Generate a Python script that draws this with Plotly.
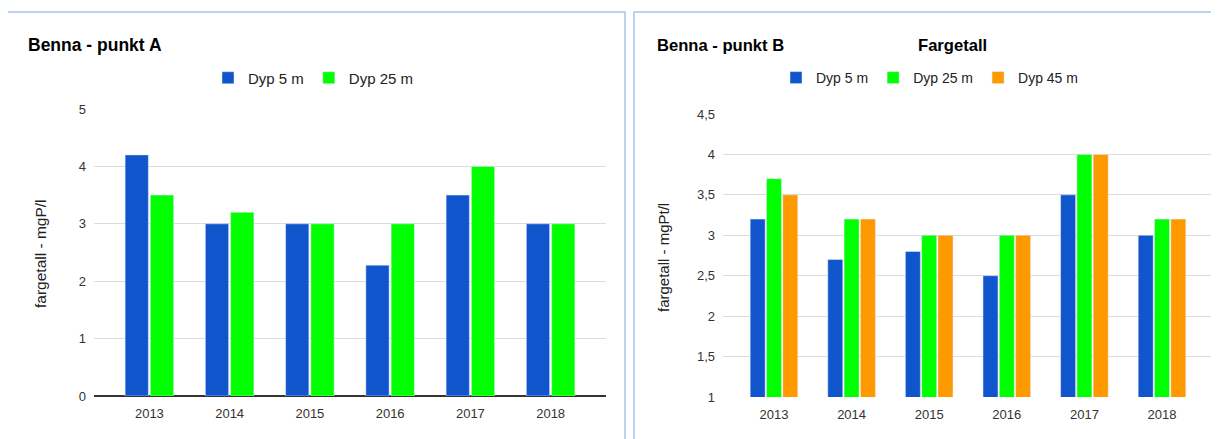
import plotly.graph_objects as go

W, H = 1219, 439
OFF = 8  # page body margin of the rendered html

years = ["2013", "2014", "2015", "2016", "2017", "2018"]

# Benna - punkt A
a_dyp5 = [4.2, 3.0, 3.0, 2.28, 3.5, 3.0]
a_dyp25 = [3.5, 3.2, 3.0, 3.0, 4.0, 3.0]

# Benna - punkt B
b_dyp5 = [3.2, 2.7, 2.8, 2.5, 3.5, 3.0]
b_dyp25 = [3.7, 3.2, 3.0, 3.0, 4.0, 3.2]
b_dyp45 = [3.5, 3.2, 3.0, 3.0, 4.0, 3.2]

a_yticks = [0, 1, 2, 3, 4, 5]
a_yticklabels = ["0", "1", "2", "3", "4", "5"]
b_yticks = [1, 1.5, 2, 2.5, 3, 3.5, 4, 4.5]
b_yticklabels = ["1", "1,5", "2", "2,5", "3", "3,5", "4", "4,5"]

BLUE = "#1155cc"
GREEN = "#00ff00"
ORANGE = "#ff9900"
FONT = "Arial, Liberation Sans, sans-serif"


def px(x):
    return (x - OFF) / W


def py(y):
    return 1 - (y - OFF) / H


fig = go.Figure()

fig.add_trace(go.Bar(x=years, y=a_dyp5, name="Dyp 5 m", marker_color=BLUE,
                     xaxis="x", yaxis="y", legend="legend"))
fig.add_trace(go.Bar(x=years, y=a_dyp25, name="Dyp 25 m", marker_color=GREEN,
                     xaxis="x", yaxis="y", legend="legend"))
fig.add_trace(go.Bar(x=years, y=b_dyp5, name="Dyp 5 m", marker_color=BLUE,
                     xaxis="x2", yaxis="y2", legend="legend2"))
fig.add_trace(go.Bar(x=years, y=b_dyp25, name="Dyp 25 m", marker_color=GREEN,
                     xaxis="x2", yaxis="y2", legend="legend2"))
fig.add_trace(go.Bar(x=years, y=b_dyp45, name="Dyp 45 m", marker_color=ORANGE,
                     xaxis="x2", yaxis="y2", legend="legend2"))

tickfont = dict(family=FONT, size=13, color="#333333")
grid = "#dcdcdc"
legfont_a = dict(family=FONT, size=15, color="#222222")
legfont_b = dict(family=FONT, size=14, color="#222222")
titlefont_a = dict(family=FONT, size=17.5, color="#000000")
titlefont_b = dict(family=FONT, size=16.6, color="#000000")
axtitlefont_a = dict(family=FONT, size=15.5, color="#222222")
axtitlefont_b = dict(family=FONT, size=15, color="#222222")
border = dict(color="#a8c4f0", width=1.5)

fig.update_layout(
    width=W, height=H,
    margin=dict(l=0, r=0, t=0, b=0, autoexpand=False),
    paper_bgcolor="white", plot_bgcolor="white",
    font=dict(family=FONT, color="#222222"),
    barmode="group", bargap=0.37, bargroupgap=0.08,
    xaxis=dict(domain=[px(94), px(606)], anchor="y", type="category",
               range=[-0.69, 5.69], tickfont=tickfont, showgrid=False,
               showline=False, ticks="", ticklabelstandoff=8, automargin=False),
    yaxis=dict(domain=[py(396), py(109)], anchor="x", range=[0, 5],
               tickvals=a_yticks, ticktext=a_yticklabels, tickfont=tickfont,
               showgrid=True, gridcolor=grid, gridwidth=1,
               zeroline=True, zerolinecolor="#333333", zerolinewidth=2,
               showline=False, ticks="", ticklabelstandoff=7, automargin=False),
    xaxis2=dict(domain=[px(723), px(1215)], anchor="y2", type="category",
                range=[-0.657, 5.683], tickfont=tickfont, showgrid=False,
                showline=False, ticks="", ticklabelstandoff=8, automargin=False),
    yaxis2=dict(domain=[py(397), py(114)], anchor="x2", range=[1, 4.5],
                tickvals=b_yticks, ticktext=b_yticklabels, tickfont=tickfont,
                showgrid=True, gridcolor=grid, gridwidth=1,
                zeroline=False, showline=False, ticks="", ticklabelstandoff=7,
                automargin=False),
    legend=dict(orientation="h", x=px(208), y=py(78), xanchor="left",
                yanchor="middle", font=legfont_a, bgcolor="rgba(0,0,0,0)"),
    legend2=dict(orientation="h", x=px(776), y=py(78), xanchor="left",
                 yanchor="middle", font=legfont_b, bgcolor="rgba(0,0,0,0)"),
    shapes=[
        dict(type="rect", xref="paper", yref="paper",
             x0=px(6), x1=px(625), y0=py(470), y1=py(12),
             line=border, layer="below"),
        dict(type="rect", xref="paper", yref="paper",
             x0=px(634), x1=px(1250), y0=py(470), y1=py(12),
             line=border, layer="below"),
    ],
    annotations=[
        dict(text="<b>Benna - punkt A</b>", xref="paper", yref="paper",
             x=px(26), y=py(45), xanchor="left", yanchor="middle",
             showarrow=False, font=titlefont_a),
        dict(text="<b>Benna - punkt B</b>", xref="paper", yref="paper",
             x=px(655), y=py(45), xanchor="left", yanchor="middle",
             showarrow=False, font=titlefont_b),
        dict(text="<b>Fargetall</b>", xref="paper", yref="paper",
             x=px(952), y=py(45), xanchor="center", yanchor="middle",
             showarrow=False, font=titlefont_b),
        dict(text="fargetall - mgP/l", xref="paper", yref="paper",
             x=px(40), y=py(254), xanchor="center", yanchor="middle",
             textangle=-90, showarrow=False, font=axtitlefont_a),
        dict(text="fargetall - mgPt/l", xref="paper", yref="paper",
             x=px(663), y=py(258), xanchor="center", yanchor="middle",
             textangle=-90, showarrow=False, font=axtitlefont_b),
    ],
)

fig.write_html("out.html")
